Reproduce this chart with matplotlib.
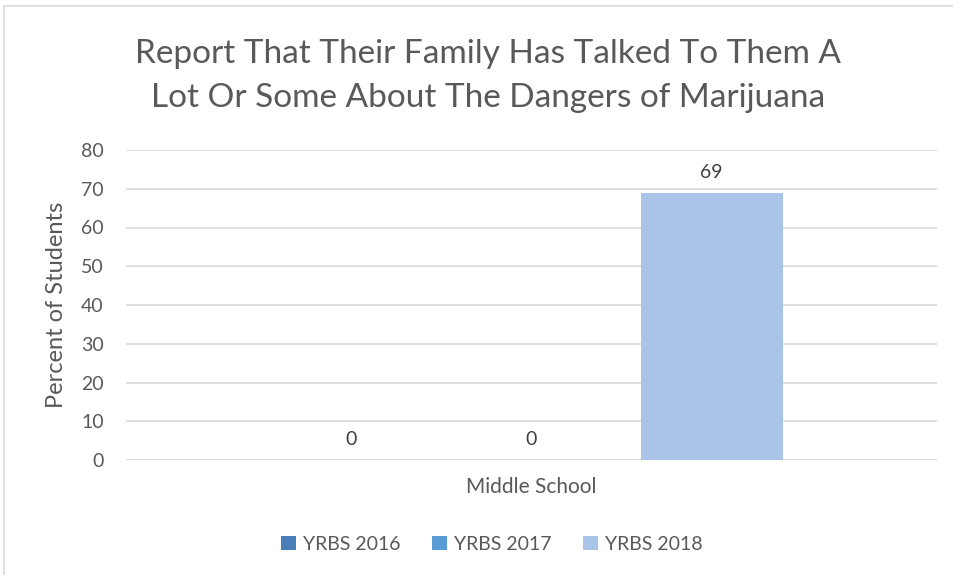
import matplotlib
matplotlib.use("Agg")
import matplotlib.pyplot as plt
from matplotlib.patches import Rectangle

# chart data
series = ["YRBS 2016", "YRBS 2017", "YRBS 2018"]
values = [0, 0, 69]
category = "Middle School"
colors = ["#4A7EBB", "#5B9BD5", "#A9C4E6"]
yticks = [0, 10, 20, 30, 40, 50, 60, 70, 80]

plt.rcParams["font.family"] = ["Lato", "DejaVu Sans"]
text_color = "#595959"

fig = plt.figure(figsize=(9.54, 5.75), dpi=100)
# plot area in pixels: x 126..937, y 150..460 (top-down)
ax = fig.add_axes([126 / 954, 1 - 460 / 575, (937 - 126) / 954, (460 - 150) / 575])

bar_w = 0.175
step = 0.222
for i, (name, v, c) in enumerate(zip(series, values, colors)):
    x = (i - 1) * step
    ax.bar(x, v, width=bar_w, color=c, label=name, zorder=3)
    ax.text(x, v + 3.0, str(v), ha="center", va="bottom", fontsize=14, color="#404040")

ax.set_xlim(-0.5, 0.5)
ax.set_ylim(0, 80)
ax.set_yticks(yticks)
ax.set_yticklabels([str(t) for t in yticks], fontsize=14, color=text_color)
ax.set_xticks([0])
ax.set_xticklabels([category], fontsize=15, color=text_color)
ax.tick_params(axis="y", length=0, pad=16)
ax.tick_params(axis="x", length=0, pad=12)
ax.grid(axis="y", color="#D9D9D9", linewidth=1.2, zorder=0)
for s in ax.spines.values():
    s.set_visible(False)
ax.axhline(0, color="#D9D9D9", linewidth=1.2, zorder=2)

ax.set_ylabel("Percent of Students", fontsize=17, color=text_color, labelpad=10)

fig.text(488 / 954, 1 - 76 / 575,
         "Report That Their Family Has Talked To Them A\nLot Or Some About The Dangers of Marijuana",
         ha="center", va="center", fontsize=24, color=text_color, linespacing=1.55)

leg = fig.legend(loc="center", bbox_to_anchor=(492 / 954, 1 - 544 / 575), ncol=3,
                 frameon=False, fontsize=14, handlelength=0.75, handleheight=0.75,
                 handletextpad=0.4, columnspacing=1.6)
for t in leg.get_texts():
    t.set_color(text_color)

# chart border
fig.patches.append(Rectangle((4 / 954, -0.01), 1.0, 1 - 6 / 575 + 0.01,
                             transform=fig.transFigure, fill=False,
                             edgecolor="#D9D9D9", linewidth=1.2))

fig.savefig("out.png", dpi=100)
